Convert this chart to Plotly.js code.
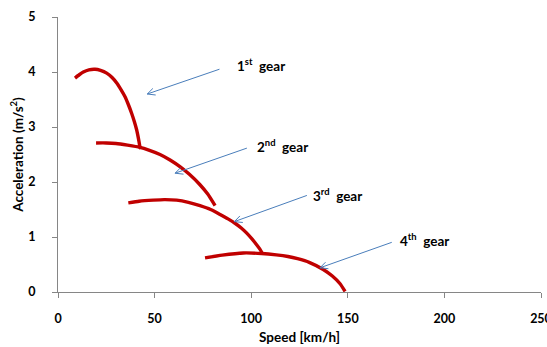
<!DOCTYPE html>
<html>
<head>
<meta charset="utf-8">
<script src="https://cdn.plot.ly/plotly-3.0.1.min.js"></script>
<style>html,body{margin:0;padding:0;background:#fff;}#chart{width:547px;height:347px;}</style>
</head>
<body>
<div id="chart"></div>
<script>
// Gear curves: speed (km/h) vs acceleration (m/s^2)
const gear1Speed = [8.8, 11, 13.1, 16, 19.2, 22, 25.2, 28, 30.4, 32.6, 34.7, 36.5, 38.1, 39.5, 40.7, 41.7, 42.4, 42.8];
const gear1Accel = [3.89, 3.95, 4.00, 4.04, 4.05, 4.03, 3.98, 3.90, 3.80, 3.68, 3.55, 3.40, 3.25, 3.10, 2.95, 2.78, 2.64, 2.60];

const gear2Speed = [19.7, 25, 30, 36, 42.4, 47, 52.8, 58, 63.1, 68, 73.5, 77.5, 81.3];
const gear2Accel = [2.71, 2.71, 2.70, 2.67, 2.63, 2.58, 2.50, 2.40, 2.28, 2.14, 1.95, 1.78, 1.57];

const gear3Speed = [36.4, 42, 49.3, 55, 61.4, 67.5, 73.5, 79, 83.9, 88, 91.6, 95, 97.7, 100.5, 102.8, 104.5, 106];
const gear3Accel = [1.62, 1.65, 1.67, 1.68, 1.67, 1.63, 1.57, 1.50, 1.41, 1.33, 1.25, 1.16, 1.07, 0.96, 0.86, 0.78, 0.69];

const gear4Speed = [76.1, 85, 95.9, 105.4, 113, 119, 124, 130, 137.3, 142, 146, 148.6];
const gear4Accel = [0.62, 0.67, 0.71, 0.70, 0.675, 0.645, 0.605, 0.54, 0.41, 0.29, 0.15, 0.01];

const gearLabels = ['1<sup>st</sup>&nbsp; gear', '2<sup>nd</sup>&nbsp; gear', '3<sup>rd</sup>&nbsp; gear', '4<sup>th</sup>&nbsp; gear'];
const xTicks = [0, 50, 100, 150, 200, 250];
const yTicks = [0, 1, 2, 3, 4, 5];

const lineStyle = {color: '#C00000', width: 3.4};
const traces = [
  [gear1Speed, gear1Accel], [gear2Speed, gear2Accel],
  [gear3Speed, gear3Accel], [gear4Speed, gear4Accel]
].map(([x, y]) => ({x, y, type: 'scatter', mode: 'lines', line: Object.assign({shape: 'spline', smoothing: 0.5}, lineStyle), hoverinfo: 'skip'}));

// arrow heads (data coords) and tail offsets (px), label anchors (data coords)
const arrowHeads = [[46.2, 3.60], [60.6, 2.16], [91.3, 1.28], [135.6, 0.44]];
const arrowTail = [[73.7, -25.3], [73.3, -25.6], [74, -26.7], [73.3, -26]];
const labelPos = [[91.5, 4.13], [102.0, 2.65], [130.8, 1.77], [176.1, 0.94]];

const arrowColor = '#4A7EBB';
const annotations = [];
arrowHeads.forEach((h, i) => {
  const [ax, ay] = arrowTail[i];
  annotations.push({x: h[0], y: h[1], xref: 'x', yref: 'y', ax: ax, ay: ay, axref: 'pixel', ayref: 'pixel',
    text: '', showarrow: true, arrowhead: 0, arrowwidth: 1, arrowcolor: arrowColor, standoff: 0, startstandoff: 0});
  const len = Math.hypot(ax, ay);
  const ux = ax / len, uy = ay / len;
  [-0.45, 0.45].forEach(a => {
    const c = Math.cos(a), s = Math.sin(a);
    const wx = (ux * c - uy * s) * 10, wy = (ux * s + uy * c) * 10;
    annotations.push({x: h[0], y: h[1], xref: 'x', yref: 'y', ax: wx, ay: wy, axref: 'pixel', ayref: 'pixel',
      text: '', showarrow: true, arrowhead: 0, arrowwidth: 1, arrowcolor: arrowColor, standoff: 0, startstandoff: 0});
  });
  annotations.push({x: labelPos[i][0], y: labelPos[i][1], xref: 'x', yref: 'y', xanchor: 'left', yanchor: 'middle',
    text: gearLabels[i], showarrow: false, font: {family: 'Lato, "Open Sans", sans-serif', size: 13.5, color: '#000', weight: 'bold'}});
});

const tickFont = {family: 'Lato, "Open Sans", sans-serif', size: 12.5, color: '#000', weight: 'bold'};
const titleFont = {family: 'Lato, "Open Sans", sans-serif', size: 13.5, color: '#000', weight: 'bold'};
const layout = {
  width: 547, height: 347,
  margin: {l: 58, r: 6, t: 17, b: 54.5, pad: 0},
  paper_bgcolor: '#fff', plot_bgcolor: '#fff',
  showlegend: false,
  xaxis: {
    range: [0, 250], tickvals: xTicks, ticktext: xTicks.map(String),
    showgrid: false, zeroline: false, showline: true, linecolor: '#868686', linewidth: 1,
    ticks: 'outside', ticklen: 5, tickcolor: '#868686', tickfont: tickFont, ticklabelstandoff: 10,
    ticklabeloverflow: 'allow',
    title: {text: 'Speed [km/h]', font: titleFont, standoff: 7}
  },
  yaxis: {
    range: [0, 5], tickvals: yTicks, ticktext: yTicks.map(String),
    showgrid: false, zeroline: false, showline: true, linecolor: '#868686', linewidth: 1,
    ticks: 'outside', ticklen: 5, tickcolor: '#868686', tickfont: tickFont, ticklabelstandoff: 14,
    title: {text: 'Acceleration (m/s<sup>2</sup>)', font: titleFont, standoff: 1}
  },
  annotations: annotations
};

Plotly.newPlot('chart', traces, layout, {staticPlot: true, displayModeBar: false});
</script>
</body>
</html>
